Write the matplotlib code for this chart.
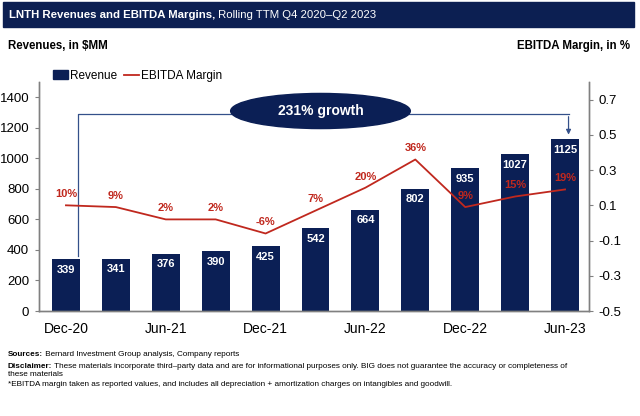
import matplotlib
matplotlib.use("Agg")
import matplotlib.pyplot as plt
from matplotlib.patches import Rectangle, Ellipse
from matplotlib.lines import Line2D
from matplotlib.patches import Patch

plt.rcParams['font.family'] = ['Liberation Sans', 'DejaVu Sans']

quarters = ['Dec-20', 'Mar-21', 'Jun-21', 'Sep-21', 'Dec-21', 'Mar-22',
            'Jun-22', 'Sep-22', 'Dec-22', 'Mar-23', 'Jun-23']
revenue = [339, 341, 376, 390, 425, 542, 664, 802, 935, 1027, 1125]
margin = [0.10, 0.09, 0.02, 0.02, -0.06, 0.07, 0.20, 0.36, 0.09, 0.15, 0.19]
margin_labels = ['10%', '9%', '2%', '2%', '-6%', '7%', '20%', '36%', '9%', '15%', '19%']
shown_ticks = ['Dec-20', 'Jun-21', 'Dec-21', 'Jun-22', 'Dec-22', 'Jun-23']
left_ticks = [0, 200, 400, 600, 800, 1000, 1200, 1400]
right_ticks = [-0.5, -0.3, -0.1, 0.1, 0.3, 0.5, 0.7]

navy = '#0b1f55'
red = '#c0281e'
bracket = '#34508a'
W, H = 640, 416

fig = plt.figure(figsize=(6.4, 4.16), dpi=100)
ax = fig.add_axes([39 / W, 105 / H, 550 / W, 229 / H])
ax2 = ax.twinx()

x = list(range(len(quarters)))
ax.bar(x, revenue, width=0.56, color=navy, zorder=2)
for xi, v in zip(x, revenue):
    ax.annotate(str(v), (xi, v), xytext=(0, -7.5), textcoords='offset points',
                ha='center', va='center', color='white', fontsize=8,
                fontweight='bold', zorder=3)

ax2.plot(x, margin, color=red, lw=1.3, zorder=3)
for xi, m, lab in zip(x, margin, margin_labels):
    ax2.annotate(lab, (xi, m), xytext=(0, 8), textcoords='offset points',
                 ha='center', va='center', color=red, fontsize=8,
                 fontweight='bold')

ax.set_xlim(-0.54, 10.48)
ax.set_ylim(0, 1500)
ax2.set_ylim(-0.5, 0.8)
ax.set_yticks(left_ticks)
ax2.set_yticks(right_ticks)
ax2.set_yticklabels([f'{t:.1f}' for t in right_ticks])
ax.set_xticks([quarters.index(q) for q in shown_ticks])
ax.set_xticklabels(shown_ticks)

for a in (ax, ax2):
    a.spines['top'].set_visible(False)
    for s in ('left', 'right', 'bottom'):
        a.spines[s].set_color('#808080')
        a.spines[s].set_linewidth(1.0)
    a.tick_params(axis='y', length=3, color='#808080', labelsize=9.5, pad=4)
ax.tick_params(axis='x', length=0, labelsize=10, pad=8)
ax.patch.set_visible(False)

# growth bracket
ax.plot([0.24, 0.24, 10.07], [360, 1290, 1290], color=bracket, lw=0.9, zorder=1)
ax.annotate('', xy=(10.07, revenue[-1] + 12), xytext=(10.07, 1291),
            arrowprops=dict(arrowstyle='-|>', color=bracket, lw=0.9,
                            mutation_scale=7), zorder=1)
ax.add_patch(Ellipse((5.1, 1310), 3.6, 230, color=navy, zorder=4))
ax.text(5.1, 1310, '231% growth', ha='center', va='center', color='white',
        fontsize=10, fontweight='bold', zorder=5)

# legend
handles = [Patch(color=navy, label='Revenue'),
           Line2D([0], [0], color=red, lw=1.3, label='EBITDA Margin')]
fig.legend(handles=handles, loc='center left', bbox_to_anchor=(42 / W, 1 - 76 / H),
           ncol=2, frameon=False, fontsize=8.5, handlelength=1.3, handleheight=0.8,
           handletextpad=0.15, columnspacing=0.6)

# title bar
fig.patches.append(Rectangle((3 / W, 1 - 27 / H), 631 / W, 25 / H,
                             transform=fig.transFigure, color='#0c1f52', zorder=0))
renderer = fig.canvas.get_renderer()


def two_part(xp, yp, bold, rest, size, color='black'):
    t = fig.text(xp / W, 1 - yp / H, bold, fontsize=size, fontweight='bold',
                 color=color, va='center')
    bb = t.get_window_extent(renderer)
    fig.text(bb.x1 / W, 1 - yp / H, rest, fontsize=size, color=color, va='center')


two_part(9, 15, 'LNTH Revenues and EBITDA Margins,', ' Rolling TTM Q4 2020\u2013Q2 2023',
         8.2, 'white')
fig.text(8 / W, 1 - 46 / H, 'Revenues, in $MM', fontsize=8.3, fontweight='bold',
         va='center')
fig.text(630 / W, 1 - 46 / H, 'EBITDA Margin, in %', fontsize=8.3, fontweight='bold',
         va='center', ha='right')

two_part(8, 355, 'Sources:', ' Bernard Investment Group analysis, Company reports', 5.85)
two_part(8, 366, 'Disclaimer:', ' These materials incorporate third\u2013party data and are for '
         'informational purposes only. BIG does not guarantee the accuracy or completeness of',
         5.85)
fig.text(8 / W, 1 - 375 / H, 'these materials', fontsize=5.85, va='center')
fig.text(8 / W, 1 - 384 / H, '*EBITDA margin taken as reported values, and includes all '
         'depreciation + amortization charges on intangibles and goodwill.', fontsize=5.85,
         va='center')

fig.savefig('out.png', dpi=100)
